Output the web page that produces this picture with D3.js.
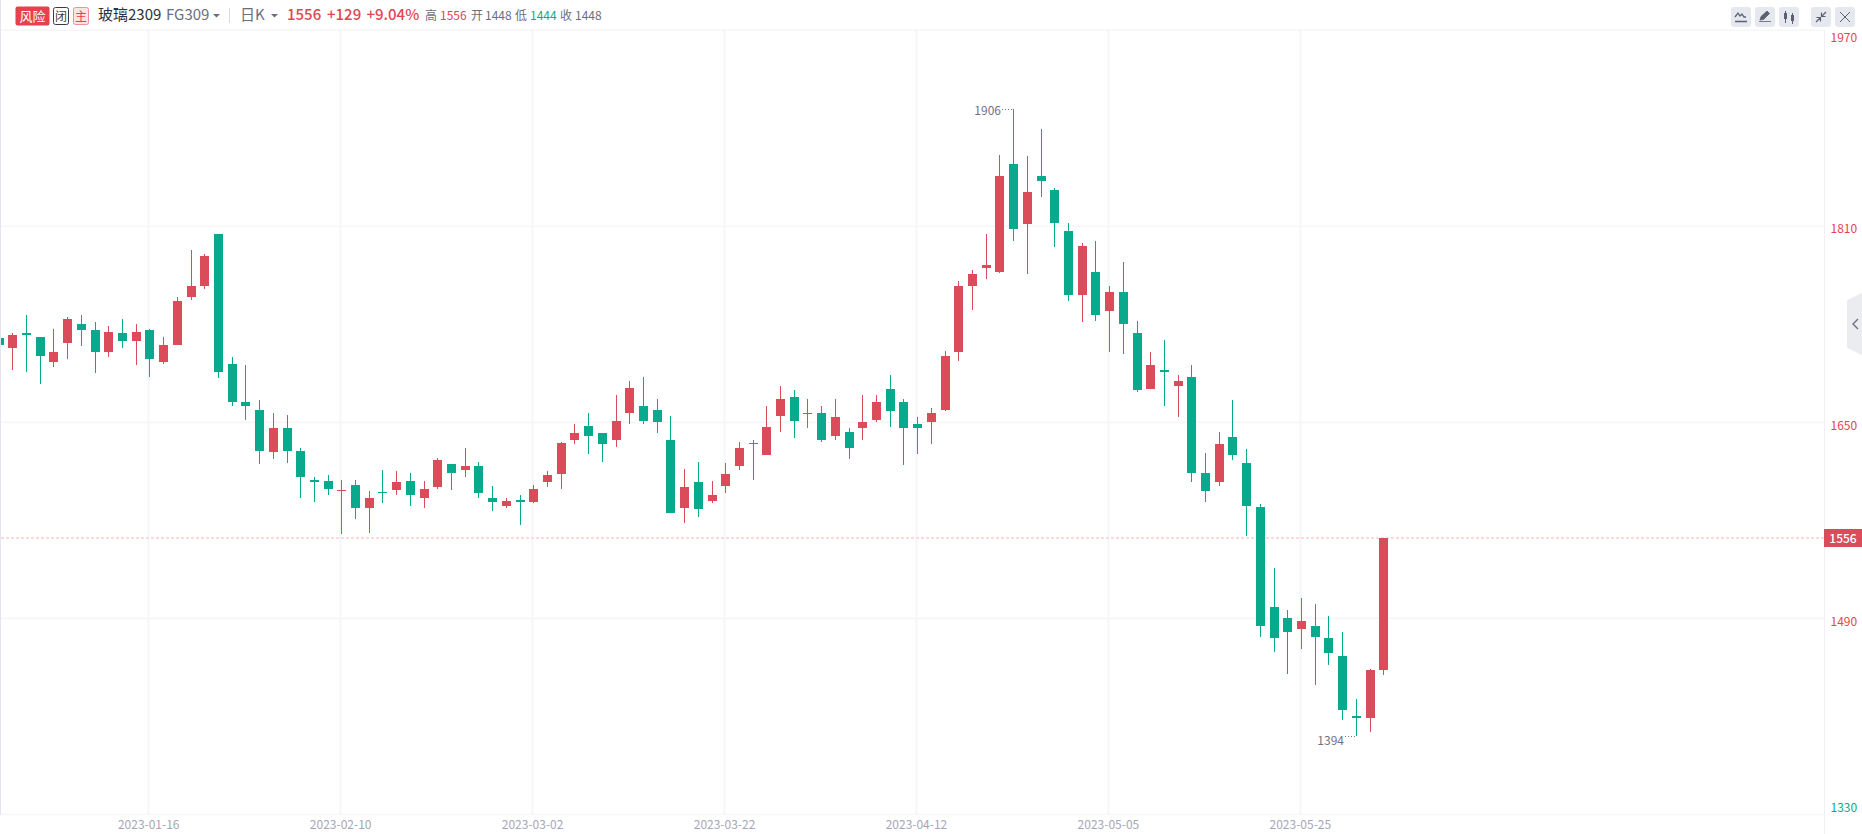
<!DOCTYPE html>
<html>
<head>
<meta charset="utf-8">
<title>玻璃2309 FG309</title>
<script src="https://cdn.jsdelivr.net/npm/d3@7"></script>
<style>
    html, body { margin: 0; padding: 0; background: #fff; overflow: hidden; }
    svg { display: block; }
    text { font-family: "Noto Sans CJK SC", "Noto Sans", sans-serif; }
</style>
</head>
<body>
<script>
// trading days, one per candle
const dates = [
    "2022-12-29", "2022-12-30", "2023-01-03", "2023-01-04", "2023-01-05", "2023-01-06",
    "2023-01-09", "2023-01-10", "2023-01-11", "2023-01-12", "2023-01-13",
    "2023-01-16", "2023-01-17", "2023-01-18", "2023-01-19", "2023-01-20",
    "2023-01-30", "2023-01-31", "2023-02-01", "2023-02-02", "2023-02-03",
    "2023-02-06", "2023-02-07", "2023-02-08", "2023-02-09", "2023-02-10",
    "2023-02-13", "2023-02-14", "2023-02-15", "2023-02-16", "2023-02-17",
    "2023-02-20", "2023-02-21", "2023-02-22", "2023-02-23", "2023-02-24",
    "2023-02-27", "2023-02-28", "2023-03-01", "2023-03-02", "2023-03-03",
    "2023-03-06", "2023-03-07", "2023-03-08", "2023-03-09", "2023-03-10",
    "2023-03-13", "2023-03-14", "2023-03-15", "2023-03-16", "2023-03-17",
    "2023-03-20", "2023-03-21", "2023-03-22", "2023-03-23", "2023-03-24",
    "2023-03-27", "2023-03-28", "2023-03-29", "2023-03-30", "2023-03-31",
    "2023-04-03", "2023-04-04", "2023-04-06", "2023-04-07",
    "2023-04-10", "2023-04-11", "2023-04-12", "2023-04-13", "2023-04-14",
    "2023-04-17", "2023-04-18", "2023-04-19", "2023-04-20", "2023-04-21",
    "2023-04-24", "2023-04-25", "2023-04-26", "2023-04-27", "2023-04-28",
    "2023-05-04", "2023-05-05",
    "2023-05-08", "2023-05-09", "2023-05-10", "2023-05-11", "2023-05-12",
    "2023-05-15", "2023-05-16", "2023-05-17", "2023-05-18", "2023-05-19",
    "2023-05-22", "2023-05-23", "2023-05-24", "2023-05-25", "2023-05-26",
    "2023-05-29", "2023-05-30", "2023-05-31", "2023-06-01", "2023-06-02"
];
const opens = [
    1719, 1711, 1723, 1720, 1699, 1715, 1730, 1725, 1707, 1723, 1716,
    1725, 1699, 1713, 1752, 1761, 1804, 1698, 1667, 1660, 1626,
    1645, 1627, 1603, 1602, 1594, 1599, 1580, 1593, 1595, 1602,
    1588, 1597, 1616, 1611, 1614, 1588, 1582, 1587, 1585, 1601,
    1608, 1636, 1647, 1641, 1636, 1658, 1663, 1660, 1636, 1580,
    1601, 1586, 1598, 1614, 1633, 1623, 1655, 1671, 1658, 1658,
    1639, 1642, 1645, 1652, 1677, 1667, 1649, 1650, 1660, 1707,
    1761, 1776, 1773, 1861, 1812, 1851, 1840, 1806, 1754, 1773,
    1741, 1756, 1723, 1677, 1693, 1680, 1687, 1609, 1601, 1638,
    1617, 1581, 1499, 1490, 1481, 1484, 1474, 1459, 1410, 1409, 1448
];
const closes = [
    1713, 1721, 1721, 1704, 1707, 1734, 1725, 1707, 1724, 1716, 1724,
    1702, 1713, 1749, 1761, 1786, 1691, 1667, 1663, 1627, 1645,
    1627, 1605, 1601, 1596, 1595, 1580, 1588, 1592, 1601, 1591,
    1596, 1619, 1609, 1614, 1592, 1585, 1586, 1585, 1596, 1607,
    1633, 1641, 1639, 1632, 1651, 1678, 1651, 1650, 1576, 1597,
    1579, 1591, 1608, 1629, 1632, 1646, 1669, 1651, 1658, 1636,
    1654, 1629, 1650, 1667, 1659, 1645, 1645, 1658, 1704, 1761,
    1771, 1778, 1851, 1808, 1838, 1847, 1813, 1754, 1794, 1738,
    1756, 1730, 1676, 1697, 1691, 1684, 1609, 1594, 1632, 1623,
    1582, 1484, 1474, 1479, 1488, 1475, 1462, 1415, 1409, 1448, 1556
];
const highs = [
    1722, 1723, 1738, 1720, 1726, 1736, 1738, 1732, 1729, 1734, 1730,
    1726, 1720, 1752, 1791, 1787, 1804, 1703, 1697, 1668, 1658,
    1656, 1629, 1605, 1607, 1603, 1603, 1594, 1611, 1610, 1609,
    1602, 1621, 1616, 1629, 1618, 1598, 1588, 1591, 1599, 1610,
    1634, 1649, 1658, 1641, 1672, 1684, 1687, 1669, 1655, 1612,
    1618, 1602, 1617, 1634, 1636, 1663, 1680, 1676, 1669, 1663,
    1669, 1645, 1672, 1672, 1689, 1669, 1654, 1662, 1708, 1765,
    1774, 1804, 1868, 1906, 1867, 1889, 1841, 1813, 1796, 1798,
    1761, 1781, 1733, 1707, 1717, 1689, 1697, 1625, 1642, 1668,
    1628, 1583, 1531, 1497, 1507, 1502, 1492, 1479, 1424, 1449, 1556
];
const lows = [
    1710, 1693, 1691, 1681, 1695, 1702, 1712, 1690, 1703, 1711, 1697,
    1687, 1698, 1713, 1750, 1759, 1686, 1663, 1652, 1616, 1620,
    1617, 1588, 1585, 1591, 1559, 1571, 1560, 1584, 1591, 1582,
    1580, 1596, 1595, 1605, 1588, 1578, 1580, 1566, 1584, 1597,
    1596, 1632, 1624, 1618, 1630, 1649, 1649, 1641, 1576, 1568,
    1573, 1584, 1592, 1611, 1603, 1623, 1642, 1637, 1645, 1634,
    1636, 1620, 1636, 1650, 1646, 1615, 1624, 1632, 1659, 1700,
    1742, 1767, 1772, 1798, 1771, 1834, 1793, 1749, 1732, 1733,
    1707, 1706, 1675, 1677, 1663, 1654, 1601, 1585, 1598, 1619,
    1557, 1475, 1463, 1445, 1465, 1436, 1452, 1407, 1394, 1397, 1444
];

const priceTicks = [1970, 1810, 1650, 1490, 1330];
const dateTicks = ["2023-01-16", "2023-02-10", "2023-03-02", "2023-03-22", "2023-04-12", "2023-05-05", "2023-05-25"];
const lastPrice = 1556;
const maxHigh = 1906;
const minLow = 1394;

const red = "#db4c5a", green = "#09a98e", textRed = "#e34452", gridColor = "#f6f6f9";
const width = 1862, height = 834;
const plot = {left: 1, right: 1824, top: 30, bottom: 815};

const svg = d3.select("body").append("svg")
    .attr("width", width)
    .attr("height", height);

svg.append("defs").append("clipPath")
    .attr("id", "plot-clip")
    .append("rect")
    .attr("x", plot.left)
    .attr("y", plot.top)
    .attr("width", plot.right - plot.left)
    .attr("height", plot.bottom - plot.top);

// set the ranges
const x = d3.scalePoint().domain(dates).range([-1.41, 1383.3]);
const y = d3.scaleLinear().domain([1330, 1970]).range([814.5, 30.2]);

// frame lines
svg.append("rect").attr("x", 0).attr("y", 0).attr("width", 1).attr("height", 815).attr("fill", "#e3e6f1");
svg.append("rect").attr("x", plot.right).attr("y", plot.top).attr("width", 1).attr("height", height - plot.top).attr("fill", "#eff0f5");

// date axis, its ticks double as the vertical grid
const xAxis = svg.append("g")
    .attr("transform", "translate(0," + plot.bottom + ")")
    .call(d3.axisBottom(x).tickValues(dateTicks).tickSize(plot.top - plot.bottom).offset(0));
xAxis.select(".domain").remove();
xAxis.selectAll("line")
    .attr("transform", d => "translate(" + (Math.round(x(d)) - x(d) - 0.5) + ",0)")
    .attr("stroke", gridColor)
    .attr("stroke-width", 2);
xAxis.selectAll("text")
    .attr("x", -0.7)
    .attr("y", 10.5)
    .attr("dy", "0.32em")
    .attr("font-size", 12)
    .attr("font-family", null)
    .attr("fill", "#a5a5b8");

// price axis, the ticks double as the horizontal grid
const yAxis = svg.append("g")
    .attr("transform", "translate(" + plot.right + ",0)")
    .call(d3.axisRight(y).tickValues(priceTicks).tickFormat(d3.format("d")).tickSize(plot.left - plot.right).offset(0));
yAxis.select(".domain").remove();
yAxis.selectAll("line").attr("stroke", gridColor).attr("stroke-width", 1.6);
yAxis.selectAll("text")
    .attr("x", 6.5)
    .attr("dy", d => d === 1970 ? "1.0em" : d === 1330 ? "-0.25em" : "0.6em")
    .attr("font-size", 12)
    .attr("font-family", null)
    .attr("fill", d => d === 1330 ? green : textRed);

// last price line
svg.append("line")
    .attr("x1", plot.left)
    .attr("x2", plot.right)
    .attr("y1", Math.round(y(lastPrice)))
    .attr("y2", Math.round(y(lastPrice)))
    .attr("stroke", "#fadadd")
    .attr("stroke-width", 2)
    .attr("stroke-dasharray", "3,2");

// candles
const candles = svg.append("g")
    .attr("clip-path", "url(#plot-clip)")
    .attr("shape-rendering", "crispEdges")
    .selectAll("g")
    .data(dates)
    .enter()
    .append("g")
    .attr("fill", (d, i) => closes[i] >= opens[i] ? red : green);

candles.append("rect")
    .attr("x", d => Math.round(x(d)))
    .attr("width", 1)
    .attr("y", (d, i) => Math.round(y(highs[i])))
    .attr("height", (d, i) => Math.round(y(lows[i])) - Math.round(y(highs[i])));

candles.append("rect")
    .attr("x", d => Math.round(x(d)) - 4)
    .attr("width", 9)
    .attr("y", (d, i) => Math.round(y(Math.max(opens[i], closes[i]))))
    .attr("height", (d, i) => Math.max(1, Math.round(y(Math.min(opens[i], closes[i]))) - Math.round(y(Math.max(opens[i], closes[i])))));

// high and low markers
function extremeLabel(value, textX, dotsFrom, dotsTo, textDy) {
    const yPos = Math.round(y(value));
    svg.append("text")
        .attr("x", textX)
        .attr("y", yPos + textDy)
        .attr("text-anchor", "end")
        .attr("font-size", 12)
        .attr("fill", "#6f7187")
        .text(value);
    svg.append("line")
        .attr("x1", dotsFrom)
        .attr("x2", dotsTo)
        .attr("y1", yPos + 0.5)
        .attr("y2", yPos + 0.5)
        .attr("stroke", "#6f7187")
        .attr("stroke-dasharray", "1,2");
}
extremeLabel(maxHigh, 1001, 1002, 1013, 6);
extremeLabel(minLow, 1344, 1345, 1356, 8.5);

// last price tag
svg.append("rect")
    .attr("x", plot.right)
    .attr("y", 529)
    .attr("width", width - plot.right)
    .attr("height", 18)
    .attr("fill", red);
svg.append("text")
    .attr("x", 1843)
    .attr("y", 542.5)
    .attr("text-anchor", "middle")
    .attr("font-size", 12)
    .attr("font-weight", 500)
    .attr("fill", "#fff")
    .text(lastPrice);

// header
function headerText(tx, str, color, size, weight) {
    return svg.append("text")
        .attr("x", tx)
        .attr("y", 19.5)
        .attr("font-size", size)
        .attr("font-weight", weight || 400)
        .attr("fill", color)
        .text(str);
}
svg.append("rect").attr("x", 15.5).attr("y", 6.5).attr("width", 34).attr("height", 19).attr("rx", 2).attr("fill", "#e8404f");
svg.append("text").attr("x", 32.5).attr("y", 20.5).attr("text-anchor", "middle").attr("font-size", 13).attr("fill", "#fff").text("风险");
svg.append("rect").attr("x", 53.5).attr("y", 7.5).attr("width", 15).attr("height", 17).attr("rx", 2).attr("fill", "#fff").attr("stroke", "#3a3a44");
svg.append("text").attr("x", 61).attr("y", 20.5).attr("text-anchor", "middle").attr("font-size", 12).attr("fill", "#3a3a44").text("闭");
svg.append("rect").attr("x", 73.5).attr("y", 7.5).attr("width", 15).attr("height", 17).attr("rx", 2).attr("fill", "#fde3e3").attr("stroke", "#ef8f98");
svg.append("text").attr("x", 81).attr("y", 20.5).attr("text-anchor", "middle").attr("font-size", 12).attr("fill", "#e8404f").text("主");

headerText(98, "玻璃2309", "#30323c", 15);
headerText(166, "FG309", "#6c6e80", 15);
svg.append("path").attr("d", "M213,14h7l-3.5,3.5z").attr("fill", "#6c6e80");
svg.append("rect").attr("x", 229).attr("y", 8).attr("width", 1).attr("height", 15).attr("fill", "#d9dae2");
headerText(240, "日K", "#6c6e80", 15);
svg.append("path").attr("d", "M271,14h7l-3.5,3.5z").attr("fill", "#6c6e80");
headerText(287, "1556", textRed, 15, 500);
headerText(327, "+129", textRed, 15, 500);
headerText(366.5, "+9.04%", textRed, 15, 500);
headerText(425, "高", "#6c6e80", 12);
headerText(440, "1556", textRed, 12);
headerText(471, "开", "#6c6e80", 12);
headerText(485, "1448", "#6c6e80", 12);
headerText(515, "低", "#6c6e80", 12);
headerText(530, "1444", green, 12);
headerText(560, "收", "#6c6e80", 12);
headerText(575, "1448", "#6c6e80", 12);

// toolbar buttons top right
const toolbar = [1731, 1755, 1779, 1811, 1835];
svg.selectAll("rect.tool")
    .data(toolbar)
    .enter()
    .append("rect")
    .attr("class", "tool")
    .attr("x", d => d)
    .attr("y", 7)
    .attr("width", 20)
    .attr("height", 20)
    .attr("rx", 3)
    .attr("fill", "#e6e8f0");
const iconColor = "#5d6070";
svg.append("path").attr("d", "M1735,17l3,-4l2,3l2,-2l2,3l2,0M1735,21.5h12").attr("fill", "none").attr("stroke", iconColor).attr("stroke-width", 1.3);
svg.append("path").attr("d", "M1760,20l1,-3.5l6,-5.5l2.5,2.5l-6,6z M1759,21.5h12").attr("fill", iconColor).attr("stroke", iconColor).attr("stroke-width", 0.8);
svg.append("path").attr("d", "M1785.5,11v12 M1792.5,13v11").attr("stroke", iconColor).attr("stroke-width", 1);
svg.append("rect").attr("x", 1784).attr("y", 13).attr("width", 3).attr("height", 6).attr("fill", iconColor);
svg.append("rect").attr("x", 1791).attr("y", 15).attr("width", 3).attr("height", 6).attr("fill", iconColor);
svg.append("path").attr("d", "M1816,22l4,-4M1816.5,17.5h4v4M1826,12l-4,4M1825.5,16.5h-4v-4").attr("fill", "none").attr("stroke", iconColor).attr("stroke-width", 1.2);
svg.append("path").attr("d", "M1840,12l10,10M1850,12l-10,10").attr("stroke", iconColor).attr("stroke-width", 1);

// collapse handle on the right edge
svg.append("path").attr("d", "M1862,293L1847,300V348L1862,355Z").attr("fill", "#ebecef");
svg.append("path").attr("d", "M1858,319l-5,5l5,5").attr("fill", "none").attr("stroke", "#6b6e7e").attr("stroke-width", 1.4);
</script>
</body>
</html>
